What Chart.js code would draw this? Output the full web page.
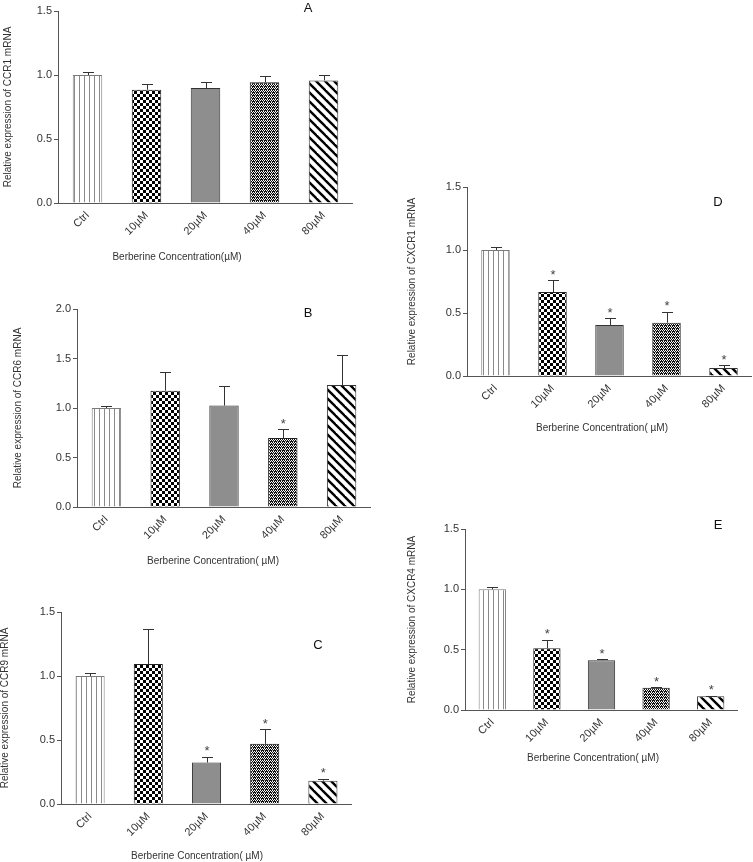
<!DOCTYPE html>
<html>
<head>
<meta charset="utf-8">
<script src="https://cdn.jsdelivr.net/npm/chart.js@4.4.1/dist/chart.umd.min.js"></script>
<style>
  html, body { margin: 0; padding: 0; background: #fff; }
  body { width: 753px; height: 862px; position: relative; overflow: hidden; font-family: "Liberation Sans", Arial, sans-serif; }
  canvas { position: absolute; }
  .xt { position: absolute; font-size: 10px; color: #333; white-space: nowrap; transform: translateX(-50%); line-height: 12px; }
  .lt { position: absolute; font-size: 13px; color: #111; line-height: 14px; transform: translate(-50%, -50%); }
</style>
</head>
<body>
<canvas id="cA"></canvas>
<canvas id="cB"></canvas>
<canvas id="cC"></canvas>
<canvas id="cD"></canvas>
<canvas id="cE"></canvas>
<div class="xt" style="left:177px;top:251px">Berberine Concentration(µM)</div>
<div class="xt" style="left:213px;top:555px">Berberine Concentration( µM)</div>
<div class="xt" style="left:197px;top:850px">Berberine Concentration( µM)</div>
<div class="xt" style="left:602px;top:422px">Berberine Concentration( µM)</div>
<div class="xt" style="left:593px;top:752px">Berberine Concentration( µM)</div>
<div class="lt" style="left:308px;top:8px">A</div>
<div class="lt" style="left:308px;top:313px">B</div>
<div class="lt" style="left:318px;top:645px">C</div>
<div class="lt" style="left:718px;top:202px">D</div>
<div class="lt" style="left:718px;top:525px">E</div>
<script>
// ---------- data ----------
const categories = ['Ctrl', '10µM', '20µM', '40µM', '80µM'];

const ccr1Mean = [1.00, 0.885, 0.898, 0.943, 0.958];
const ccr1Err  = [0.02, 0.042, 0.050, 0.047, 0.044];
const ccr1Sig  = [false, false, false, false, false];

const ccr6Mean = [1.00, 1.175, 1.024, 0.697, 1.232];
const ccr6Err  = [0.02, 0.192, 0.195, 0.088, 0.300];
const ccr6Sig  = [false, false, false, true, false];

const ccr9Mean = [1.00, 1.093, 0.324, 0.470, 0.182];
const ccr9Err  = [0.02, 0.272, 0.045, 0.114, 0.015];
const ccr9Sig  = [false, false, true, true, true];

const cxcr1Mean = [1.00, 0.667, 0.405, 0.423, 0.063];
const cxcr1Err  = [0.02, 0.092, 0.053, 0.088, 0.022];
const cxcr1Sig  = [false, true, true, true, true];

const cxcr4Mean = [1.00, 0.512, 0.412, 0.185, 0.113];
const cxcr4Err  = [0.02, 0.072, 0.011, 0.006, 0.004];
const cxcr4Sig  = [false, true, true, true, true];

const yTicksMaxA = 1.5, yTicksMaxB = 2.0, yTicksMaxC = 1.5, yTicksMaxD = 1.5, yTicksMaxE = 1.5;

// ---------- patterns ----------
function makePattern(w, h, draw) {
  const c = document.createElement('canvas');
  c.width = w; c.height = h;
  const g = c.getContext('2d');
  draw(g);
  return g.createPattern(c, 'repeat');
}
const tmpCtx = document.createElement('canvas').getContext('2d');
const patCtrl = makePattern(5, 5, g => {
  g.fillStyle = '#fff'; g.fillRect(0, 0, 5, 5);
  g.fillStyle = '#8a8a8a'; g.fillRect(2, 0, 1, 5);
});
const patChecker = makePattern(6, 6, g => {
  g.fillStyle = '#fff'; g.fillRect(0, 0, 6, 6);
  g.fillStyle = '#000'; g.fillRect(0, 0, 3, 3); g.fillRect(3, 3, 3, 3);
});
const patDots = makePattern(4, 3, g => {
  g.fillStyle = '#111'; g.fillRect(0, 0, 4, 3);
  g.fillStyle = '#fff';
  g.fillRect(0, 0, 1, 1); g.fillRect(2, 0, 1, 1);
  g.fillRect(1, 2, 1, 1); g.fillRect(3, 2, 1, 1);
  g.fillStyle = '#bbb'; g.fillRect(1, 1, 1, 1);
});
const patDiag = makePattern(9, 9, g => {
  g.fillStyle = '#fff'; g.fillRect(0, 0, 9, 9);
  g.strokeStyle = '#000'; g.lineWidth = 2.4;
  for (let k = -9; k <= 18; k += 9) {
    g.beginPath(); g.moveTo(k - 1, -1); g.lineTo(k + 10, 10); g.stroke();
  }
});
const barFills = [patCtrl, patChecker, '#8e8e8e', patDots, patDiag];
const barBorders = ['#7a7a7a', '#222', '#333', '#222', '#333'];

// ---------- error bar / star plugin ----------
const errPlugin = {
  id: 'errbars',
  afterDatasetsDraw(chart) {
    const { ctx } = chart;
    const meta = chart.getDatasetMeta(0);
    const ys = chart.scales.y;
    const p = chart.options.plugins.errbars;
    ctx.save();
    meta.data.forEach((bar, i) => {
      const top = ys.getPixelForValue(p.means[i] + p.errs[i]);
      const base = ys.getPixelForValue(p.means[i]);
      ctx.strokeStyle = '#333';
      ctx.lineWidth = 1;
      ctx.beginPath();
      ctx.moveTo(Math.round(bar.x) + 0.5, base);
      ctx.lineTo(Math.round(bar.x) + 0.5, Math.round(top) + 0.5);
      ctx.moveTo(Math.round(bar.x) - 5, Math.round(top) + 0.5);
      ctx.lineTo(Math.round(bar.x) + 6, Math.round(top) + 0.5);
      ctx.stroke();
      if (p.sig[i]) {
        ctx.fillStyle = '#444';
        ctx.font = '13px "Liberation Sans", Arial, sans-serif';
        ctx.textAlign = 'center';
        ctx.textBaseline = 'middle';
        ctx.fillText('*', bar.x + 0.5, top - 5);
      }
    });
    ctx.restore();
  }
};

function makeChart(id, box, means, errs, sig, yMax, yTitle) {
  const cv = document.getElementById(id);
  cv.width = box.w; cv.height = box.h;
  cv.style.left = box.l + 'px'; cv.style.top = box.t + 'px';
  cv.style.width = box.w + 'px'; cv.style.height = box.h + 'px';
  const font = '"Liberation Sans", Arial, sans-serif';
  return new Chart(cv, {
    type: 'bar',
    data: {
      labels: categories,
      datasets: [{
        data: means,
        backgroundColor: barFills,
        borderColor: barBorders,
        borderWidth: 1,
        barPercentage: 1,
        categoryPercentage: 0.5
      }]
    },
    options: {
      responsive: false,
      animation: false,
      devicePixelRatio: 1,
      layout: { padding: { top: 10, left: 0, right: 0, bottom: 0 } },
      plugins: {
        legend: { display: false },
        tooltip: { enabled: false },
        errbars: { means, errs, sig }
      },
      scales: {
        x: {
          grid: { display: false, drawTicks: false },
          border: { display: true, color: '#555', width: 1 },
          ticks: {
            autoSkip: false, minRotation: 45, maxRotation: 45, padding: 6,
            color: '#333', font: { family: font, size: 11 }
          },
          afterFit(s) { s.height = box.xh; }
        },
        y: {
          min: 0, max: yMax,
          grid: { display: true, drawOnChartArea: false, drawTicks: true, tickLength: 4, color: '#555' },
          border: { display: true, color: '#555', width: 1 },
          ticks: {
            stepSize: 0.5, padding: 2, color: '#333', font: { family: font, size: 11 },
            callback: v => Number(v).toFixed(1)
          },
          title: { display: true, text: yTitle, padding: 0, color: '#333', font: { family: font, size: 10 } },
          afterFit(s) { s.width = box.yw; }
        }
      }
    },
    plugins: [errPlugin]
  });
}

makeChart('cA', { l: 2, t: 1, w: 351, h: 252, yw: 56, xh: 50 }, ccr1Mean, ccr1Err, ccr1Sig, yTicksMaxA, 'Relative expression of CCR1 mRNA');
makeChart('cB', { l: 12, t: 299, w: 359, h: 258, yw: 65, xh: 50 }, ccr6Mean, ccr6Err, ccr6Sig, yTicksMaxB, 'Relative expression of CCR6 mRNA');
makeChart('cC', { l: -1, t: 602, w: 353, h: 252, yw: 62, xh: 50 }, ccr9Mean, ccr9Err, ccr9Sig, yTicksMaxC, 'Relative expression of CCR9 mRNA');
makeChart('cD', { l: 406, t: 177, w: 346, h: 249, yw: 61, xh: 50 }, cxcr1Mean, cxcr1Err, cxcr1Sig, yTicksMaxD, 'Relative expression of CXCR1 mRNA');
makeChart('cE', { l: 406, t: 519, w: 332, h: 241, yw: 59, xh: 50 }, cxcr4Mean, cxcr4Err, cxcr4Sig, yTicksMaxE, 'Relative expression of CXCR4 mRNA');
</script>
</body>
</html>
